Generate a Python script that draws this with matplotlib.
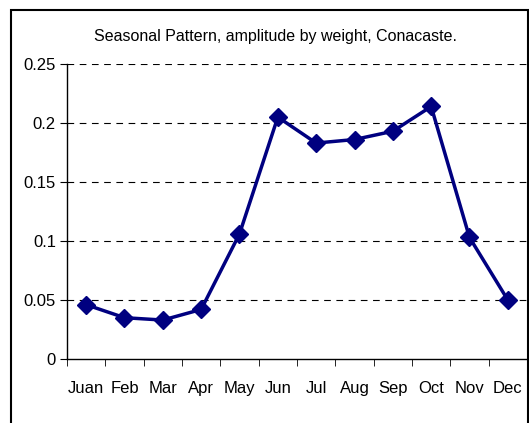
import numpy as np
import matplotlib.pyplot as plt
from matplotlib.patches import Rectangle

months = ['Juan', 'Feb', 'Mar', 'Apr', 'May', 'Jun',
          'Jul', 'Aug', 'Sep', 'Oct', 'Nov', 'Dec']
amplitude = [0.046, 0.035, 0.033, 0.042, 0.106, 0.205,
             0.183, 0.186, 0.193, 0.214, 0.103, 0.050]
yticks = [0, 0.05, 0.1, 0.15, 0.2, 0.25]
ytick_labels = ['0', '0.05', '0.1', '0.15', '0.2', '0.25']

plt.rcParams['font.family'] = ['Liberation Sans', 'DejaVu Sans']

fig = plt.figure(figsize=(5.29, 4.23), dpi=100)
ax = fig.add_axes([67 / 529, 1 - 359 / 423, 460 / 529, 295 / 423])

x = np.arange(len(months))
ax.plot(x, amplitude, color='#000080', linewidth=2.5, marker='D',
        markersize=9, zorder=3, clip_on=False)

ax.set_xlim(-0.5, len(months) - 0.5)
ax.set_ylim(0, 0.25)
ax.set_yticks(yticks)
ax.set_yticklabels(ytick_labels, fontsize=12)
ax.set_xticks(x)
ax.set_xticklabels(months, fontsize=12)
ax.set_xticks(np.arange(len(months) + 1) - 0.5, minor=True)
ax.tick_params(axis='x', which='major', length=0, pad=16)
ax.tick_params(axis='x', which='minor', length=5, direction='out')
ax.tick_params(axis='y', length=5, direction='out', pad=3)

for y in yticks[1:]:
    ax.axhline(y, color='black', linestyle=(0, (6, 5)), linewidth=0.8,
               zorder=1)

for side in ['top', 'right']:
    ax.spines[side].set_visible(False)
for side in ['left', 'bottom']:
    ax.spines[side].set_linewidth(1.0)

fig.text(276 / 529, 1 - 36 / 423,
         'Seasonal Pattern, amplitude by weight, Conacaste.',
         ha='center', va='center', fontsize=11.5)

# outer chart frame
fig.patches.append(Rectangle((11 / 529, -0.05), 516.5 / 529,
                             1 - 10 / 423 + 0.05,
                             transform=fig.transFigure, fill=False,
                             edgecolor='black', linewidth=1.5))

fig.savefig('out.png', dpi=100)
